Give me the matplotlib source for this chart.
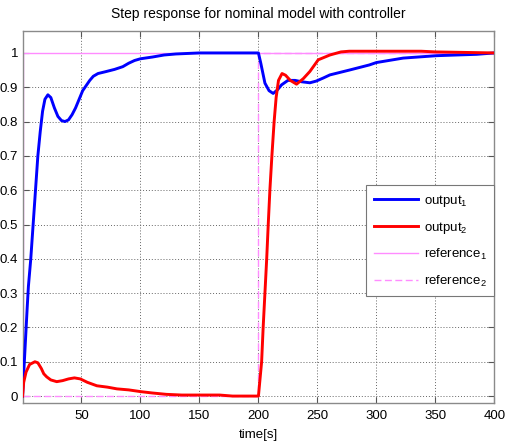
import matplotlib
matplotlib.use("Agg")
import matplotlib.pyplot as plt
import numpy as np

plt.rcParams['font.family'] = ['Liberation Sans', 'DejaVu Sans']
plt.rcParams['mathtext.fontset'] = 'custom'
plt.rcParams['mathtext.rm'] = 'Liberation Sans'
plt.rcParams['mathtext.it'] = 'Liberation Sans'

# ---- data ----
t1 = [0, 2, 4, 5, 7, 9, 11, 13, 15, 17, 19, 21.5, 24, 27, 30, 33, 36, 39, 42, 45, 48,
      51, 54, 57, 60, 64, 70, 78, 85, 90, 95, 100, 110, 120, 130, 150, 200,
      202, 205.5, 209, 212.5, 216, 219.6, 225, 231, 236.6, 243.6, 249, 255, 260.6,
      277, 294, 300, 322.7, 351, 385, 400]
y1 = [0, 0.13, 0.26, 0.32, 0.40, 0.50, 0.60, 0.70, 0.77, 0.83, 0.865, 0.878, 0.87, 0.84,
      0.815, 0.803, 0.80, 0.805, 0.82, 0.84, 0.865, 0.89, 0.905, 0.92, 0.932, 0.94, 0.945,
      0.952, 0.96, 0.97, 0.978, 0.983, 0.988, 0.994, 0.997, 1.0, 1.0,
      0.97, 0.912, 0.89, 0.882, 0.892, 0.907, 0.92, 0.92, 0.916, 0.913, 0.918, 0.927, 0.936,
      0.95, 0.965, 0.972, 0.985, 0.992, 0.996, 1.0]

t2 = [0, 1, 3, 6, 10.5, 13, 16, 18, 20.5, 24, 29, 34, 39, 44, 49, 55, 63, 72, 80, 90,
      100, 110, 122, 135, 150, 167, 178, 200,
      202.7, 204, 205.5, 207, 208.3, 209.7, 211.4, 213.3, 215, 217, 220, 223, 227, 232.3,
      238, 243.6, 250.7, 260.6, 270, 277, 300, 338, 350, 400]
y2 = [0, 0.04, 0.07, 0.092, 0.10, 0.097, 0.08, 0.065, 0.056, 0.047, 0.042, 0.045, 0.05,
      0.053, 0.05, 0.04, 0.03, 0.026, 0.021, 0.018, 0.013, 0.009, 0.005, 0.003, 0.003,
      0.003, 0.0, 0.0,
      0.10, 0.20, 0.30, 0.40, 0.50, 0.60, 0.70, 0.80, 0.87, 0.92, 0.94, 0.935, 0.92, 0.909,
      0.925, 0.946, 0.98, 0.994, 1.003, 1.005, 1.005, 1.005, 1.003, 1.0]

tr1 = [0, 0, 400]
r1 = [0, 1, 1]
tr2 = [0, 200, 200, 400]
r2 = [0, 0, 1, 1]

xticks = [50, 100, 150, 200, 250, 300, 350, 400]
yticks = [0, 0.1, 0.2, 0.3, 0.4, 0.5, 0.6, 0.7, 0.8, 0.9, 1]
ytick_labels = ['0', '0.1', '0.2', '0.3', '0.4', '0.5', '0.6', '0.7', '0.8', '0.9', '1']

fig = plt.figure(figsize=(5.06, 4.44), dpi=100)
ax = fig.add_axes([0.0445, 0.0925, 0.9325, 0.8385])

pink = '#ff8cff'
l3, = ax.plot(tr1, r1, color=pink, lw=1.0, zorder=2, label=r'reference$_1$')
l4, = ax.plot(tr2, r2, color=pink, lw=1.0, ls=(0, (5, 2.5)), zorder=2, label=r'reference$_2$')
l1, = ax.plot(t1, y1, color='#0000ff', lw=2.1, zorder=3, label=r'output$_1$')
l2, = ax.plot(t2, y2, color='#ff0000', lw=2.1, zorder=3, label=r'output$_2$')

ax.set_xlim(0, 400)
ax.set_ylim(-0.02, 1.065)
ax.set_xticks(xticks)
ax.set_yticks(yticks)
ax.set_yticklabels(ytick_labels)
ax.tick_params(direction='in', top=True, right=True, labelsize=9.5, length=4,
               color='#555555')
ax.tick_params(axis='x', pad=5)
ax.tick_params(axis='y', pad=3)
ax.grid(True, color='#666666', ls=(0, (1, 2)), lw=0.7)
for s in ax.spines.values():
    s.set_color('#8a8a8a')
    s.set_linewidth(1.0)

ax.set_title('Step response for nominal model with controller', fontsize=10, pad=9)
ax.set_xlabel('time[s]', fontsize=9.5, labelpad=5)

leg = ax.legend(handles=[l1, l2, l3, l4], loc='upper right',
                bbox_to_anchor=(1.0, 0.586), fontsize=9.5, frameon=True,
                fancybox=False, edgecolor='#777777', framealpha=1,
                handlelength=3.3, labelspacing=0.85, handletextpad=0.45,
                borderpad=0.6, borderaxespad=0)
leg.get_frame().set_linewidth(0.8)

fig.savefig('out.png', dpi=100)
